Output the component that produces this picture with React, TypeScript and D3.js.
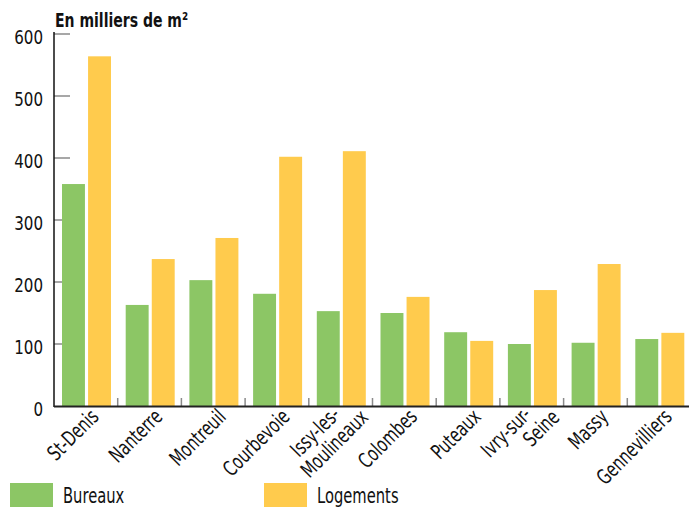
import React from "react";
import * as d3 from "d3";

const categories: string[][] = [
  ["St-Denis"],
  ["Nanterre"],
  ["Montreuil"],
  ["Courbevoie"],
  ["Issy-les-", "Moulineaux"],
  ["Colombes"],
  ["Puteaux"],
  ["Ivry-sur-", "Seine"],
  ["Massy"],
  ["Gennevilliers"],
];
const bureaux = [358, 163, 203, 181, 153, 150, 119, 100, 102, 108];
const logements = [564, 237, 271, 402, 411, 176, 105, 187, 229, 118];
const seriesNames = ["Bureaux", "Logements"];
const seriesColors = ["#8CC665", "#FFCB4D"];
const yTicks = [0, 100, 200, 300, 400, 500, 600];
const title = "En  milliers de m²";

const W = 689;
const H = 507;
const FONT = "'DejaVu Sans Condensed', 'DejaVu Sans', sans-serif";
const SX = 0.78;

export default function App() {
  const left = 54;
  const right = 691;
  const y0 = 406;
  const yTop = 34;
  const keys = categories.map((c) => c.join(" "));
  const x0 = d3.scaleBand<string>().domain(keys).range([left, right]).padding(0);
  const x1 = d3.scaleBand<string>().domain(seriesNames).range([8, 57]).paddingInner(0.12);
  const y = d3.scaleLinear().domain([0, 600]).range([y0, yTop]);
  const values = [bureaux, logements];

  return (
    <svg width={W} height={H} style={{ display: "block", position: "absolute", left: 0, top: 0 }} fontFamily={FONT}>
      <rect x={0} y={0} width={W} height={H} fill="#fff" />
      <text transform={`translate(55,27) scale(${SX},1)`} fontSize={20} fontWeight="bold" fill="#111">
        {title}
      </text>
      {/* y ticks */}
      {yTicks.map((t) => (
        <g key={t}>
          {t > 0 && (
            <line x1={left} x2={left + 16} y1={y(t)} y2={y(t)} stroke="#8a8a8a" strokeWidth={1.5} />
          )}
          <text
            transform={`translate(43,${y(t) + 3}) scale(0.84,1)`}
            dy="0.35em"
            textAnchor="end"
            fontSize={20}
            fill="#111"
          >
            {t}
          </text>
        </g>
      ))}
      {/* bars */}
      {keys.map((k, i) => (
        <g key={k} transform={`translate(${x0(k)},0)`}>
          {seriesNames.map((s, j) => (
            <rect
              key={s}
              x={x1(s)}
              y={y(values[j][i])}
              width={x1.bandwidth()}
              height={y0 - y(values[j][i])}
              fill={seriesColors[j]}
            />
          ))}
        </g>
      ))}
      {/* x ticks */}
      {keys.slice(1).map((k) => (
        <line key={k} x1={x0(k)} x2={x0(k)} y1={y0 - 8} y2={y0} stroke="#8a8a8a" strokeWidth={1.5} />
      ))}
      {/* axes */}
      <line x1={left} x2={left} y1={yTop - 2} y2={y0 + 1} stroke="#111" strokeWidth={1.5} />
      <line x1={left} x2={W} y1={y0 + 0.5} y2={y0 + 0.5} stroke="#222" strokeWidth={2} />
      {/* x labels */}
      {categories.map((lines, i) => {
        const cx = (x0(keys[i]) as number) + x0.bandwidth() / 2 + 14;
        const cy = 418;
        return (
          <g key={i} transform={`translate(${cx},${cy}) rotate(-45)`}>
            {lines.length === 1 ? (
              <text transform={`scale(${SX},1)`} textAnchor="end" fontSize={21} fill="#111">
                {lines[0]}
              </text>
            ) : (
              lines.map((l, li) => (
                <text
                  key={li}
                  transform={`translate(${li === 0 ? -8 : 10},${li === 0 ? -11 : 11}) scale(${SX},1)`}
                  textAnchor="end"
                  fontSize={21}
                  fill="#111"
                >
                  {l}
                </text>
              ))
            )}
          </g>
        );
      })}
      {/* legend */}
      {seriesNames.map((s, j) => (
        <g key={s} transform={`translate(${j === 0 ? 10 : 264},483)`}>
          <rect x={0} y={0} width={43} height={24} fill={seriesColors[j]} />
          <text transform={`translate(53,20) scale(${SX},1)`} fontSize={21} fill="#111">
            {s}
          </text>
        </g>
      ))}
    </svg>
  );
}
